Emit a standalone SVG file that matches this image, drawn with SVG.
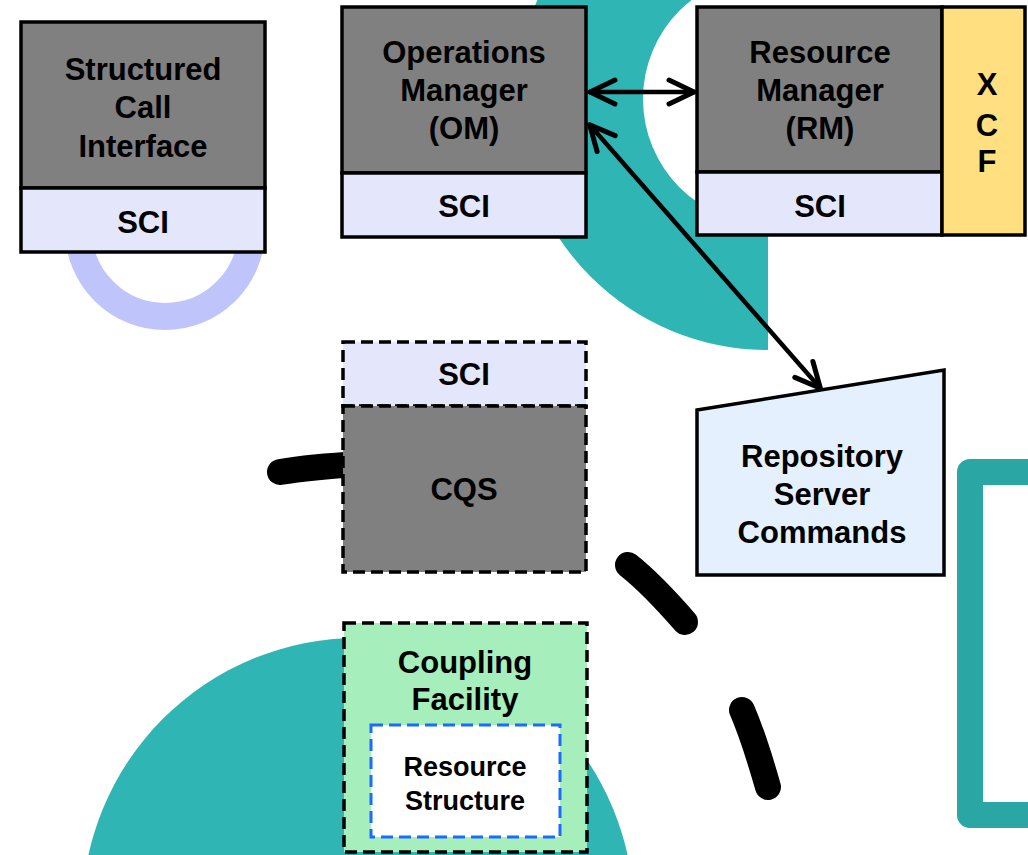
<svg xmlns="http://www.w3.org/2000/svg" width="1028" height="855" viewBox="0 0 1028 855">
<defs>
<style>
text{font-family:"Liberation Sans",Arial,sans-serif;font-weight:bold;font-size:31px;fill:#000;text-anchor:middle}
.gray{fill:#808080;stroke:#000;stroke-width:3.5}
.sci{fill:#E4E6FC;stroke:#000;stroke-width:3.5}
.dash{stroke-dasharray:12 6}
.blob{fill:#2EB5B4}
.stroke{fill:none;stroke:#000;stroke-width:26;stroke-linecap:round}
.conn{fill:none;stroke:#000;stroke-width:4.5;marker-start:url(#chev);marker-end:url(#chev)}
.small{font-size:27px}
</style>
<marker id="chev" viewBox="-32 -18 38 36" markerUnits="userSpaceOnUse" markerWidth="38" markerHeight="36" refX="1" refY="0" orient="auto-start-reverse">
<path d="M-25,-12 L0,0 L-25,12" fill="none" stroke="#000" stroke-width="5" stroke-linecap="round" stroke-linejoin="round"/>
</marker>
</defs>
<g id="background">
<path class="blob" d="M768,-152 A251,251 0 0 0 768,350 L768,224 A125,125 0 0 1 768,-26 Z"/>
<circle class="blob" cx="358" cy="914" r="276"/>
<rect x="970" y="472" width="200" height="343" fill="none" stroke="#2AA6A4" stroke-width="26" stroke-linejoin="round"/>
<circle cx="165" cy="230" r="86.5" fill="none" stroke="#BFC4FA" stroke-width="27"/>
<path class="stroke" d="M280,472 Q310,467 360,464"/>
<path class="stroke" d="M628,565 Q652,584 685,622"/>
<path class="stroke" d="M742,710 Q754,738 768,787"/>
</g>
<g id="sci-node">
<rect class="gray" x="21" y="22" width="244" height="166"/>
<rect class="sci" x="21" y="188" width="244" height="64"/>
<text x="143" y="80">Structured</text>
<text x="143" y="118">Call</text>
<text x="143" y="157">Interface</text>
<text x="143" y="233">SCI</text>
</g>
<g id="om-node">
<rect class="gray" x="342" y="7" width="244" height="166"/>
<rect class="sci" x="342" y="173" width="244" height="64"/>
<text x="464" y="63">Operations</text>
<text x="464" y="101">Manager</text>
<text x="464" y="139">(OM)</text>
<text x="464" y="217">SCI</text>
</g>
<g id="rm-node">
<rect class="gray" x="697" y="7" width="245" height="165"/>
<rect class="sci" x="697" y="172" width="245" height="63"/>
<text x="820" y="63">Resource</text>
<text x="820" y="101">Manager</text>
<text x="820" y="139">(RM)</text>
<text x="820" y="217">SCI</text>
</g>
<g id="xcf-node">
<rect x="942" y="7" width="83" height="228" fill="#FFDF80" stroke="#000" stroke-width="3.5"/>
<text x="987" y="95">X</text>
<text x="987" y="136">C</text>
<text x="987" y="172">F</text>
</g>
<g id="repo-node">
<path d="M697,410 L944,370 L944,575 L697,575 Z" fill="#E5F0FF" stroke="#000" stroke-width="3.5"/>
<text x="822" y="467">Repository</text>
<text x="822" y="505">Server</text>
<text x="822" y="543">Commands</text>
</g>
<g id="cqs-node">
<rect class="sci dash" x="343" y="342" width="243" height="64"/>
<rect class="gray dash" x="343" y="406" width="243" height="166"/>
<text x="464" y="385">SCI</text>
<text x="464" y="500">CQS</text>
</g>
<g id="cf-node">
<rect x="344" y="623" width="243" height="229" fill="#A6EFBC" stroke="#000" stroke-width="3.5" class="dash"/>
<text x="465" y="673">Coupling</text>
<text x="465" y="710">Facility</text>
</g>
<g id="rs-node">
<rect x="371" y="725" width="189" height="112" fill="#FFFFFF" stroke="#1A6BFF" stroke-width="3" class="dash"/>
<text class="small" x="465" y="776">Resource</text>
<text class="small" x="465" y="810">Structure</text>
</g>
<g id="connectors">
<path class="conn" d="M589,92 L695,92"/>
<path class="conn" d="M589,124 L821,389"/>
</g>
</svg>
